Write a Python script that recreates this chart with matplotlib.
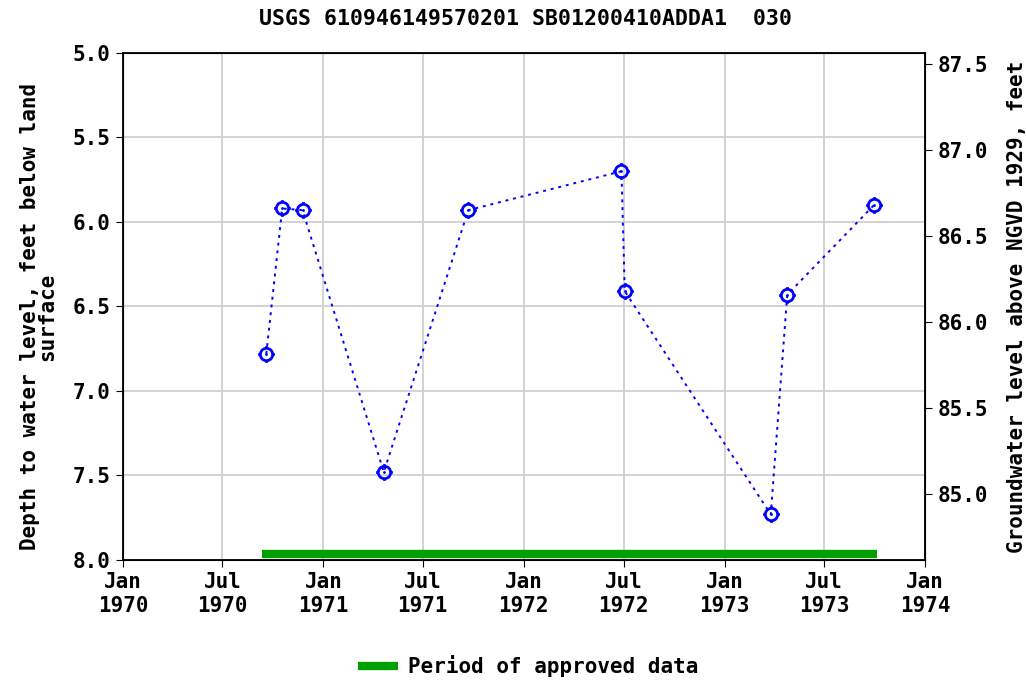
import numpy as np
import pandas as pd
import matplotlib
matplotlib.use('Agg')
import matplotlib.pyplot as plt
from matplotlib.path import Path

# measurement dates and depth to water (feet below land surface)
dates = pd.to_datetime(['1970-09-19', '1970-10-18', '1970-11-24', '1971-04-21',
                        '1971-09-22', '1972-06-27', '1972-07-03', '1973-03-26',
                        '1973-04-25', '1973-09-30'])
depth = [6.78, 5.92, 5.93, 7.48, 5.93, 5.70, 6.41, 7.73, 6.43, 5.90]

# period of approved data
approved = pd.to_datetime(['1970-09-12', '1973-10-05'])

tick_dates = pd.to_datetime(['1970-01-01', '1970-07-01', '1971-01-01', '1971-07-01',
                             '1972-01-01', '1972-07-01', '1973-01-01', '1973-07-01',
                             '1974-01-01'])
tick_labels = ['Jan\n1970', 'Jul\n1970', 'Jan\n1971', 'Jul\n1971', 'Jan\n1972',
               'Jul\n1972', 'Jan\n1973', 'Jul\n1973', 'Jan\n1974']
left_ticks = [5.0, 5.5, 6.0, 6.5, 7.0, 7.5, 8.0]
right_ticks = [85.0, 85.5, 86.0, 86.5, 87.0, 87.5]

plt.rcParams['font.family'] = 'DejaVu Sans Mono'
plt.rcParams['font.weight'] = 'bold'
fs = 15

# circle with four little ticks, like the USGS symbol
circ = Path.unit_circle()
tk = [(0, 1), (0, 1.35), (0, -1), (0, -1.35), (1, 0), (1.35, 0), (-1, 0), (-1.35, 0)]
tk_codes = [Path.MOVETO, Path.LINETO] * 4
sym = Path(np.concatenate([circ.vertices, tk]),
           np.concatenate([circ.codes, tk_codes]))

fig = plt.figure(figsize=(10.26, 6.81), dpi=100)
ax = fig.add_axes([0.1199, 0.1777, 0.7817, 0.7445])

ax.plot(dates, depth, color='blue', linestyle=(0, (1.5, 2.5)), linewidth=1.4, zorder=3)
ax.plot(dates, depth, linestyle='none', marker=sym, markersize=12,
        markerfacecolor='none', markeredgecolor='blue', markeredgewidth=2, zorder=4)
ax.plot(dates, depth, linestyle='none', marker='.', markersize=2,
        color='blue', zorder=5)
ax.plot(approved, [7.965, 7.965], color='#00a000', linewidth=6,
        solid_capstyle='butt', zorder=2, label='Period of approved data')

ax.set_xlim(pd.Timestamp('1970-01-01'), pd.Timestamp('1974-01-01'))
ax.set_ylim(8.0, 5.0)
ax.set_xticks(tick_dates)
ax.set_xticklabels(tick_labels)
ax.set_yticks(left_ticks)
ax.set_yticklabels(['%.1f' % v for v in left_ticks])
ax.grid(True, color='#d0d0d0', linewidth=1.3)
ax.tick_params(labelsize=fs, length=5, direction='out', pad=4)
for s in ax.spines.values():
    s.set_linewidth(1.3)
ax.set_ylabel('Depth to water level, feet below land\nsurface', fontsize=fs,
              fontweight='bold', linespacing=0.85)
ax.yaxis.set_label_coords(-0.082, 0.48)

ax2 = ax.twinx()
ax2.set_ylim(84.613, 87.565)
ax2.set_yticks(right_ticks)
ax2.set_yticklabels(['%.1f' % v for v in right_ticks])
ax2.tick_params(labelsize=fs, length=5, pad=4)
ax2.set_ylabel('Groundwater level above NGVD 1929, feet', fontsize=fs,
               fontweight='bold', labelpad=14)

fig.suptitle('USGS 610946149570201 SB01200410ADDA1  030', x=0.512, y=0.987,
             fontsize=fs + 0.5, fontweight='bold')

fig.legend(handles=ax.get_lines()[3:], loc='lower center', bbox_to_anchor=(0.515, -0.022),
           frameon=False, fontsize=fs, handlelength=1.9, handletextpad=0.5)

fig.savefig('out.png', dpi=100)
